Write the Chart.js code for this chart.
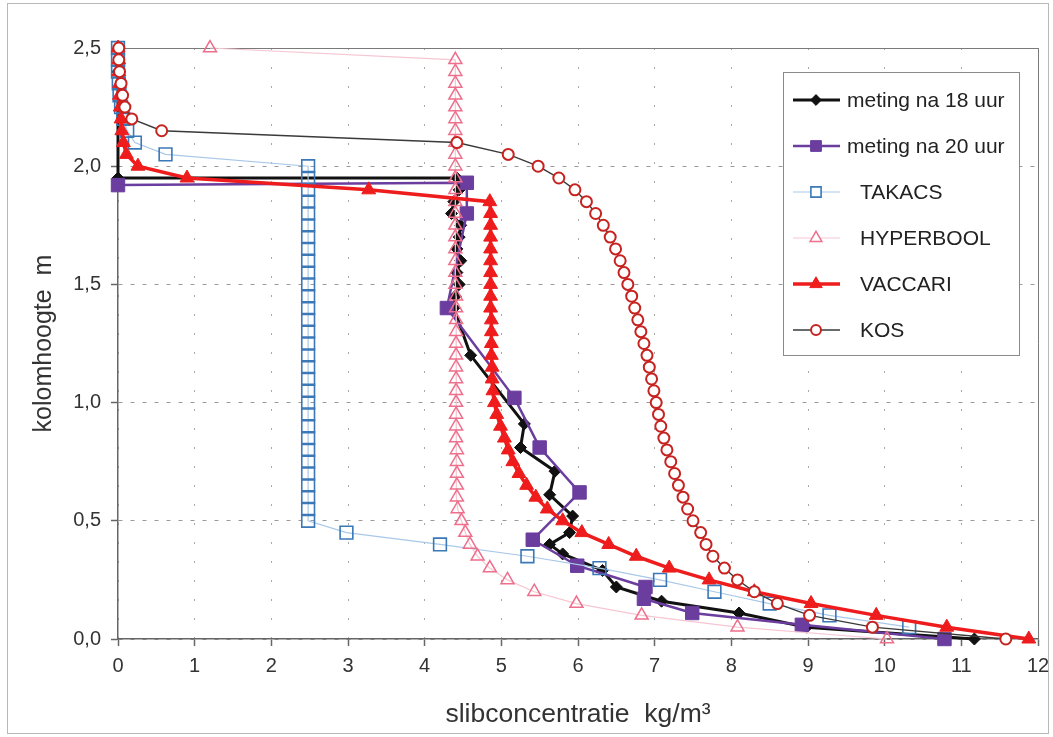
<!DOCTYPE html>
<html>
<head>
<meta charset="utf-8">
<script src="https://cdn.jsdelivr.net/npm/chart.js@4.4.1/dist/chart.umd.min.js"></script>
<style>
  html, body { margin: 0; padding: 0; background: #ffffff; }
  canvas { display: block; }
</style>
</head>
<body>
<canvas id="c" width="1053" height="737"></canvas>
<script>
// Sludge concentration (kg/m3) against column height (m)

// Measurement after 18 hours
const meting18X = [0.00, 0.00, 4.42, 4.45, 4.38, 4.35, 4.47, 4.45, 4.42, 4.47, 4.42, 4.45, 4.40, 4.38, 4.60, 5.30, 5.25, 5.70, 5.63, 5.93, 5.89, 5.63, 5.80, 6.32, 6.50, 7.09, 8.10, 8.98, 11.17];
const meting18Y = [2.40, 1.95, 1.95, 1.90, 1.85, 1.80, 1.75, 1.70, 1.65, 1.60, 1.55, 1.50, 1.45, 1.40, 1.20, 0.91, 0.81, 0.71, 0.61, 0.52, 0.45, 0.40, 0.36, 0.29, 0.22, 0.16, 0.11, 0.05, 0.00];

// Measurement after 20 hours
const meting20X = [0.00, 4.55, 4.55, 4.29, 5.17, 5.50, 6.02, 5.41, 5.99, 6.88, 6.86, 7.49, 8.92, 10.78];
const meting20Y = [1.92, 1.93, 1.80, 1.40, 1.02, 0.81, 0.62, 0.42, 0.31, 0.22, 0.17, 0.11, 0.06, 0.00];

// Takacs model
const takacsX = [0.00, 0.00, 0.00, 0.01, 0.02, 0.04, 0.07, 0.12, 0.22, 0.62,
  2.48, 2.48, 2.48, 2.48, 2.48, 2.48, 2.48, 2.48, 2.48, 2.48, 2.48,
  2.48, 2.48, 2.48, 2.48, 2.48, 2.48, 2.48, 2.48, 2.48, 2.48,
  2.48, 2.48, 2.48, 2.48, 2.48, 2.48, 2.48, 2.48, 2.48, 2.48,
  2.98, 4.20, 5.34, 6.28, 7.07, 7.78, 8.50, 9.28, 10.32];
const takacsY = [2.50, 2.45, 2.40, 2.35, 2.30, 2.25, 2.20, 2.15, 2.10, 2.05,
  2.00, 1.95, 1.90, 1.85, 1.80, 1.75, 1.70, 1.65, 1.60, 1.55, 1.50,
  1.45, 1.40, 1.35, 1.30, 1.25, 1.20, 1.15, 1.10, 1.05, 1.00,
  0.95, 0.90, 0.85, 0.80, 0.75, 0.70, 0.65, 0.60, 0.55, 0.50,
  0.45, 0.40, 0.35, 0.30, 0.25, 0.20, 0.15, 0.10, 0.05];

// Hyperbolic model
const hyperboolX = [1.20,
  4.40, 4.40, 4.40, 4.40, 4.40, 4.40, 4.40, 4.40, 4.40, 4.40,
  4.40, 4.40, 4.40, 4.40, 4.40, 4.40, 4.40, 4.40, 4.40, 4.40,
  4.41, 4.41, 4.41, 4.41, 4.41, 4.41, 4.41, 4.41, 4.41, 4.41,
  4.41, 4.41, 4.41, 4.42, 4.42, 4.42, 4.42, 4.42, 4.43,
  4.48, 4.53, 4.59, 4.69, 4.85, 5.08, 5.43, 5.98, 6.83, 8.08, 10.03];
const hyperboolY = [2.50,
  2.45, 2.40, 2.35, 2.30, 2.25, 2.20, 2.15, 2.10, 2.05, 2.00,
  1.95, 1.90, 1.85, 1.80, 1.75, 1.70, 1.65, 1.60, 1.55, 1.50,
  1.45, 1.40, 1.35, 1.30, 1.25, 1.20, 1.15, 1.10, 1.05, 1.00,
  0.95, 0.90, 0.85, 0.80, 0.75, 0.70, 0.65, 0.60, 0.55,
  0.50, 0.45, 0.40, 0.35, 0.30, 0.25, 0.20, 0.15, 0.10, 0.05, 0.00];

// Vaccari model
const vaccariX = [0.00, 0.01, 0.01, 0.02, 0.02, 0.03, 0.04, 0.05, 0.07, 0.11,
  0.26, 0.90, 3.27, 4.85,
  4.86, 4.86, 4.86, 4.86, 4.86, 4.86, 4.86, 4.86, 4.86, 4.87, 4.87, 4.87, 4.87, 4.88,
  4.88, 4.89, 4.91, 4.94, 4.99, 5.04, 5.09, 5.15, 5.23, 5.33, 5.45, 5.60,
  5.80, 6.05, 6.40, 6.76, 7.19, 7.71, 8.30, 9.04, 9.89, 10.81, 11.88];
const vaccariY = [2.50, 2.45, 2.40, 2.35, 2.30, 2.25, 2.20, 2.15, 2.10, 2.05,
  2.00, 1.95, 1.90, 1.85,
  1.80, 1.75, 1.70, 1.65, 1.60, 1.55, 1.50, 1.45, 1.40, 1.35, 1.30, 1.25, 1.20, 1.15,
  1.10, 1.05, 1.00, 0.95, 0.90, 0.85, 0.80, 0.75, 0.70, 0.65, 0.60, 0.55,
  0.50, 0.45, 0.40, 0.35, 0.30, 0.25, 0.20, 0.15, 0.10, 0.05, 0.00];

// Kos model
const kosX = [0.01, 0.01, 0.02, 0.04, 0.06, 0.09, 0.18, 0.57, 4.42, 5.09,
  5.48, 5.75, 5.96, 6.11, 6.23, 6.33, 6.42, 6.49, 6.55, 6.60,
  6.65, 6.70, 6.74, 6.78, 6.82, 6.86, 6.90, 6.93, 6.96, 6.99,
  7.02, 7.05, 7.08, 7.12, 7.16, 7.21, 7.26, 7.31, 7.37, 7.43,
  7.50, 7.60, 7.67, 7.76, 7.91, 8.08, 8.30, 8.60, 9.02, 9.84, 11.58];
const kosY = [2.50, 2.45, 2.40, 2.35, 2.30, 2.25, 2.20, 2.15, 2.10, 2.05,
  2.00, 1.95, 1.90, 1.85, 1.80, 1.75, 1.70, 1.65, 1.60, 1.55,
  1.50, 1.45, 1.40, 1.35, 1.30, 1.25, 1.20, 1.15, 1.10, 1.05,
  1.00, 0.95, 0.90, 0.85, 0.80, 0.75, 0.70, 0.65, 0.60, 0.55,
  0.50, 0.45, 0.40, 0.35, 0.30, 0.25, 0.20, 0.15, 0.10, 0.05, 0.00];

// Axis ticks
const xTicks = [0, 1, 2, 3, 4, 5, 6, 7, 8, 9, 10, 11, 12];
const yTicks = [0.0, 0.5, 1.0, 1.5, 2.0, 2.5];

const xTitle = 'slibconcentratie  kg/m\u00B3';
const yTitle = 'kolomhoogte  m';

const pts = (xs, ys) => xs.map((x, i) => ({ x: x, y: ys[i] }));

const FONT = '"Liberation Sans", Arial, Helvetica, sans-serif';

const datasets = [
  {
    label: 'meting na 18 uur', data: pts(meting18X, meting18Y),
    borderColor: '#111111', backgroundColor: '#111111', borderWidth: 3,
    pointStyle: 'rectRot', pointRadius: 6, pointBorderWidth: 1,
    legendIndent: 0, order: 5
  },
  {
    label: 'meting na 20 uur', data: pts(meting20X, meting20Y),
    borderColor: '#6a3d9e', backgroundColor: '#6a3d9e', borderWidth: 2.5,
    pointStyle: 'rect', pointRadius: 9.5, pointBorderWidth: 1,
    legendIndent: 0, order: 4
  },
  {
    label: 'TAKACS', data: pts(takacsX, takacsY),
    borderColor: '#a9c8e8', backgroundColor: '#ffffff', borderWidth: 1.2,
    pointBorderColor: '#3b78b8', pointBackgroundColor: 'rgba(255,255,255,0)',
    pointStyle: 'rect', pointRadius: 9, pointBorderWidth: 1.6,
    legendIndent: 13, order: 3
  },
  {
    label: 'HYPERBOOL', data: pts(hyperboolX, hyperboolY),
    borderColor: '#f6c6d2', backgroundColor: '#ffffff', borderWidth: 1.2,
    pointBorderColor: '#ee6f8c', pointBackgroundColor: 'rgba(255,255,255,0)',
    pointStyle: 'triangle', pointRadius: 7.5, pointBorderWidth: 1.5,
    legendIndent: 13, order: 2
  },
  {
    label: 'VACCARI', data: pts(vaccariX, vaccariY),
    borderColor: '#ee1c1c', backgroundColor: '#ee1c1c', borderWidth: 3.5,
    pointBorderColor: '#ee1c1c', pointBackgroundColor: '#ee1c1c',
    pointStyle: 'triangle', pointRadius: 8, pointBorderWidth: 1,
    legendIndent: 13, order: 1
  },
  {
    label: 'KOS', data: pts(kosX, kosY),
    borderColor: '#3a3a3a', backgroundColor: '#ffffff', borderWidth: 1.4,
    pointBorderColor: '#c62320', pointBackgroundColor: '#ffffff',
    pointStyle: 'circle', pointRadius: 5.5, pointBorderWidth: 2,
    legendIndent: 13, order: 0
  }
].map(d => Object.assign({ showLine: true, tension: 0, clip: false, pointHoverRadius: d.pointRadius }, d));

// Plot frame and outer border
const framePlugin = {
  id: 'frame',
  beforeDraw(chart) {
    const ctx = chart.ctx;
    ctx.save();
    ctx.fillStyle = '#ffffff';
    ctx.fillRect(0, 0, chart.width, chart.height);
    ctx.strokeStyle = '#b8b8b8';
    ctx.lineWidth = 1;
    ctx.strokeRect(7.5, 3.5, chart.width - 12, chart.height - 7);
    ctx.restore();
  },
  beforeDatasetsDraw(chart) {
    const { ctx, chartArea: a } = chart;
    ctx.save();
    ctx.strokeStyle = '#7a7a7a';
    ctx.lineWidth = 1;
    ctx.beginPath();
    ctx.moveTo(a.left, a.top + 0.5);
    ctx.lineTo(a.right + 0.5, a.top + 0.5);
    ctx.lineTo(a.right + 0.5, a.bottom);
    ctx.stroke();
    ctx.restore();
  }
};

// Legend with line + marker samples
const legendPlugin = {
  id: 'lineLegend',
  afterDraw(chart) {
    const ctx = chart.ctx;
    const box = { x: 783.5, y: 72.5, w: 236, h: 283 };
    ctx.save();
    ctx.fillStyle = '#ffffff';
    ctx.fillRect(box.x, box.y, box.w, box.h);
    ctx.strokeStyle = '#8a8a8a';
    ctx.lineWidth = 1;
    ctx.strokeRect(box.x, box.y, box.w, box.h);
    ctx.font = '21px ' + FONT;
    ctx.textBaseline = 'middle';
    ctx.textAlign = 'left';
    chart.data.datasets.forEach((ds, i) => {
      const cy = 100 + i * 46;
      ctx.save();
      ctx.strokeStyle = ds.borderColor;
      ctx.lineWidth = ds.borderWidth;
      ctx.beginPath();
      ctx.moveTo(793, cy);
      ctx.lineTo(840, cy);
      ctx.stroke();
      ctx.fillStyle = ds.pointBackgroundColor || ds.backgroundColor;
      ctx.strokeStyle = ds.pointBorderColor || ds.borderColor;
      ctx.lineWidth = ds.pointBorderWidth;
      const r = ds.pointStyle === 'rect' ? ds.pointRadius * 0.8 : ds.pointRadius * 0.9;
      if (ds.pointBackgroundColor === 'rgba(255,255,255,0)') ctx.fillStyle = '#ffffff';
      Chart.helpers.drawPoint(ctx, { pointStyle: ds.pointStyle, radius: r, borderWidth: ds.pointBorderWidth, rotation: 0 }, 816, cy);
      ctx.restore();
      ctx.fillStyle = '#222222';
      ctx.fillText(ds.label, 847 + ds.legendIndent, cy + 1);
    });
    ctx.restore();
  }
};

new Chart(document.getElementById('c'), {
  type: 'scatter',
  data: { datasets: datasets },
  options: {
    responsive: false,
    maintainAspectRatio: false,
    devicePixelRatio: 1,
    animation: false,
    events: [],
    layout: { padding: { top: 48, right: 0, left: 0, bottom: 0 } },
    plugins: { legend: { display: false }, tooltip: { enabled: false } },
    scales: {
      x: {
        type: 'linear', min: 0, max: 12,
        afterBuildTicks: s => { s.ticks = xTicks.map(v => ({ value: v })); },
        afterFit: s => { s.height = 98; s.paddingLeft = 0; s.paddingRight = 15; },
        ticks: { color: '#333333', font: { family: FONT, size: 20 }, padding: 8, callback: v => String(v) },
        grid: { color: '#a8a8a8', lineWidth: 1, tickLength: 7, tickColor: '#666666', tickBorderDash: [], tickWidth: 1.5 },
        border: { display: true, color: '#666666', width: 1.5, dash: [2, 17] },
        title: { display: true, text: xTitle, color: '#333333', font: { family: FONT, size: 26.5 }, padding: { top: 0, bottom: 6 } }
      },
      y: {
        type: 'linear', min: 0, max: 2.5,
        afterBuildTicks: s => { s.ticks = yTicks.map(v => ({ value: v })); },
        afterFit: s => { s.width = 118; },
        ticks: { color: '#333333', font: { family: FONT, size: 20 }, padding: 10, callback: v => v.toFixed(1).replace('.', ',') },
        grid: { color: '#9a9a9a', lineWidth: 1, tickLength: 7, tickColor: '#666666', tickBorderDash: [], tickWidth: 1.5 },
        border: { display: true, color: '#666666', width: 1.5, dash: [4, 8] },
        title: { display: true, text: yTitle, color: '#333333', font: { family: FONT, size: 25 }, padding: { top: 29, bottom: 0 } }
      }
    }
  },
  plugins: [framePlugin, legendPlugin]
});
</script>
</body>
</html>
